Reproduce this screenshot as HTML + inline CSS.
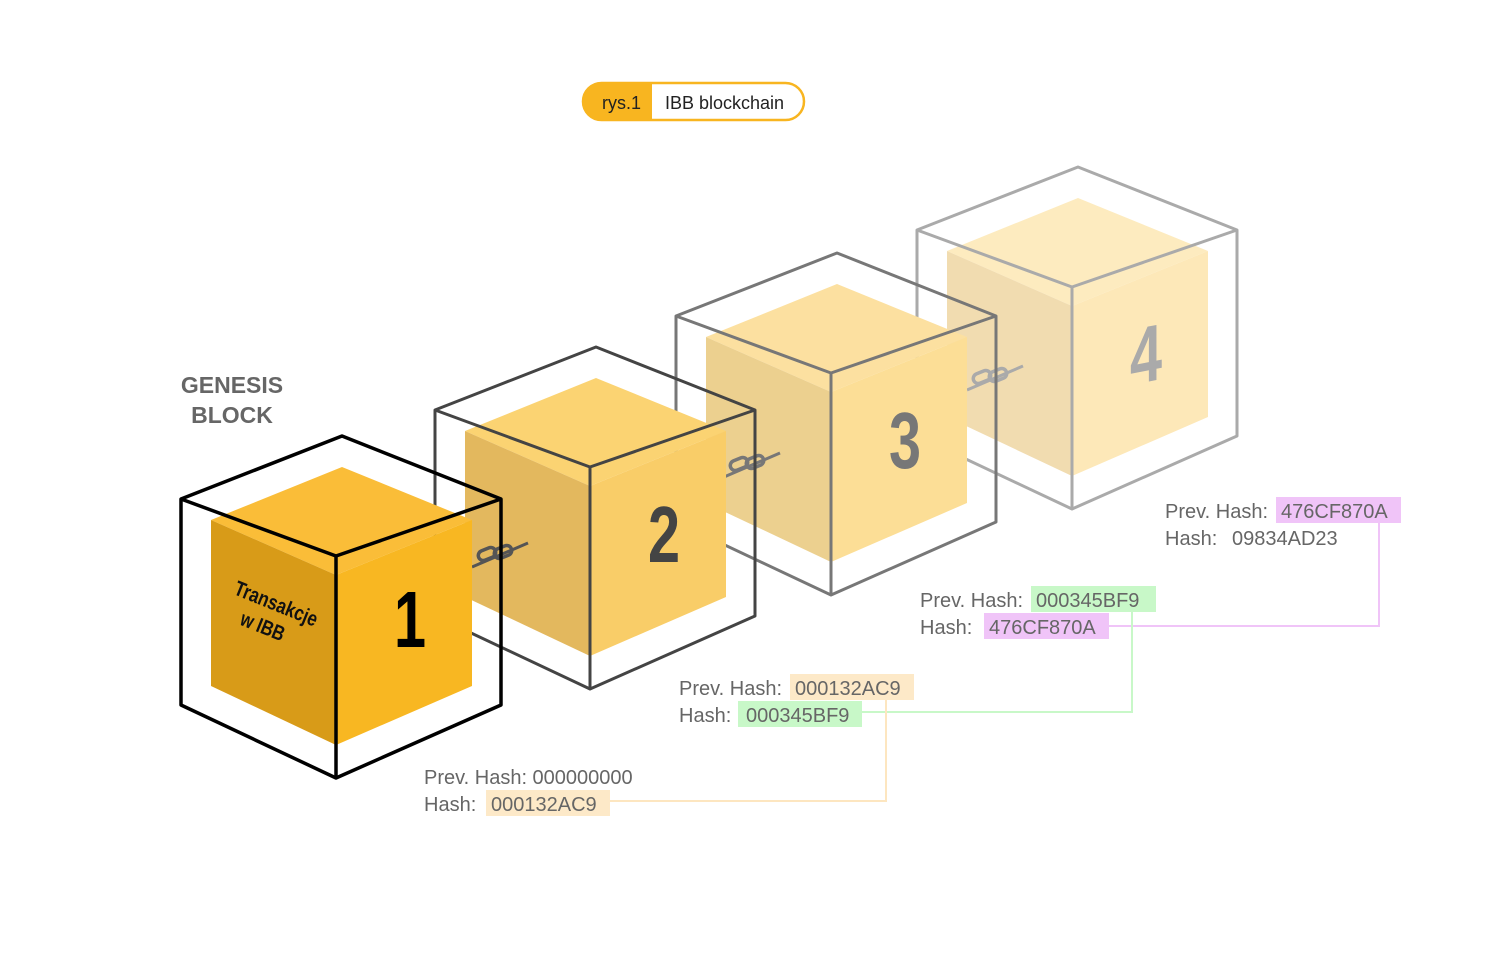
<!DOCTYPE html>
<html><head><meta charset="utf-8"><style>
body{margin:0;background:#fff;}
svg{display:block;font-family:"Liberation Sans",sans-serif;}
.t{font-size:20px;fill:#666;}
</style></head><body>
<svg width="1508" height="954" viewBox="0 0 1508 954" xmlns="http://www.w3.org/2000/svg">
<defs>
<g id="chain">
<line x1="-28" y1="12" x2="28" y2="-12" stroke-width="3"/>
<rect x="-22" y="-6" width="18" height="10" rx="5" fill="none" stroke-width="3.5" transform="rotate(-22 -13 -1)"/>
<rect x="-6" y="-8" width="18" height="10" rx="5" fill="none" stroke-width="3.5" transform="rotate(-22 3 -3)"/>
</g>
</defs>
<!-- pill -->
<rect x="583" y="83" width="221" height="37" rx="18.5" fill="#fff" stroke="#f8b520" stroke-width="2.5"/>
<path d="M601.5 83 H652 V120 H601.5 A18.5 18.5 0 0 1 601.5 83 Z" fill="#f8b520"/>
<text x="602" y="109" font-size="18" fill="#222">rys.1</text>
<text x="665" y="109" font-size="18" fill="#222">IBB blockchain</text>

<text x="232" y="393" font-size="23" font-weight="bold" fill="#666" text-anchor="middle">GENESIS</text>
<text x="232" y="423" font-size="23" font-weight="bold" fill="#666" text-anchor="middle">BLOCK</text>

<!-- cube 4 -->
<g transform="translate(736,-269)">
<polygon points="342,467 472,520 336,575 211,520" fill="#fdebbf"/>
<polygon points="211,520 336,575 336,745 211,686" fill="#f1dcb0"/>
<polygon points="336,575 472,520 472,686 336,745" fill="#fde8b8"/>
<g fill="none" stroke="#aaa" stroke-width="3" stroke-linejoin="round">
<polygon points="342,436 501,499 501,705 336,778 181,705 181,499"/>
<polyline points="181,499 336,556 501,499"/><line x1="336" y1="556" x2="336" y2="778"/>
</g>
<g transform="translate(410,0) scale(0.72,1)"><text x="0" y="651" font-size="80" font-weight="bold" fill="#aaa" text-anchor="middle" transform="skewY(-8) translate(0,0)">4</text></g>
</g>
<use href="#chain" x="995" y="378" stroke="#aaa"/>
<!-- cube 3 -->
<g transform="translate(495,-183)">
<polygon points="342,467 472,520 336,575 211,520" fill="#fce0a0"/>
<polygon points="211,520 336,575 336,745 211,686" fill="#ecd08f"/>
<polygon points="336,575 472,520 472,686 336,745" fill="#fcde96"/>
<g fill="none" stroke="#777" stroke-width="3" stroke-linejoin="round">
<polygon points="342,436 501,499 501,705 336,778 181,705 181,499"/>
<polyline points="181,499 336,556 501,499"/><line x1="336" y1="556" x2="336" y2="778"/>
</g>
<g transform="translate(410,0) scale(0.72,1)"><text x="0" y="651" font-size="80" font-weight="bold" fill="#777" text-anchor="middle">3</text></g>
</g>
<use href="#chain" x="752" y="465" stroke="#777"/>
<!-- cube 2 -->
<g transform="translate(254,-89)">
<polygon points="342,467 472,520 336,575 211,520" fill="#fbd372"/>
<polygon points="211,520 336,575 336,745 211,686" fill="#e3b85e"/>
<polygon points="336,575 472,520 472,686 336,745" fill="#f9cd68"/>
<g fill="none" stroke="#444" stroke-width="3" stroke-linejoin="round">
<polygon points="342,436 501,499 501,705 336,778 181,705 181,499"/>
<polyline points="181,499 336,556 501,499"/><line x1="336" y1="556" x2="336" y2="778"/>
</g>
<g transform="translate(410,0) scale(0.72,1)"><text x="0" y="651" font-size="80" font-weight="bold" fill="#444" text-anchor="middle">2</text></g>
</g>
<use href="#chain" x="500" y="555" stroke="#555"/>
<!-- cube 1 -->
<g>
<polygon points="342,467 472,520 336,575 211,520" fill="#fabd38"/>
<polygon points="211,520 336,575 336,745 211,686" fill="#d89b18"/>
<polygon points="336,575 472,520 472,686 336,745" fill="#f8b722"/>
<g fill="none" stroke="#000" stroke-width="3.5" stroke-linejoin="round">
<polygon points="342,436 501,499 501,705 336,778 181,705 181,499"/>
<polyline points="181,499 336,556 501,499"/><line x1="336" y1="556" x2="336" y2="778"/>
</g>
<g transform="translate(410,0) scale(0.72,1)"><text x="0" y="647" font-size="80" font-weight="bold" fill="#000" text-anchor="middle">1</text></g>
<g transform="translate(272,614) rotate(22)" font-size="21" font-weight="bold" fill="#111" text-anchor="middle">
<text x="0" y="-4" textLength="88" lengthAdjust="spacingAndGlyphs">Transakcje</text>
<text x="-4" y="22" textLength="46" lengthAdjust="spacingAndGlyphs">w IBB</text>
</g>
</g>

<!-- connectors -->
<polyline points="1379,523 1379,626 1109,626" fill="none" stroke="#f0c4f8" stroke-width="2"/>
<polyline points="1132,612 1132,712 862,712" fill="none" stroke="#c8f8c8" stroke-width="2"/>
<polyline points="886,700 886,801 610,801" fill="none" stroke="#fde6c0" stroke-width="2"/>

<!-- hash labels -->
<rect x="1276" y="497" width="125" height="26" fill="#f0c4f8"/>
<text class="t" x="1165" y="518">Prev. Hash:</text><text class="t" x="1281" y="518">476CF870A</text>
<text class="t" x="1165" y="545">Hash:</text><text class="t" x="1232" y="545">09834AD23</text>

<rect x="1031" y="586" width="125" height="26" fill="#c8f8c8"/>
<rect x="984" y="613" width="125" height="26" fill="#f0c4f8"/>
<text class="t" x="920" y="607">Prev. Hash:</text><text class="t" x="1036" y="607">000345BF9</text>
<text class="t" x="920" y="634">Hash:</text><text class="t" x="989" y="634">476CF870A</text>

<rect x="790" y="674" width="124" height="26" fill="#fde9c8"/>
<rect x="738" y="701" width="124" height="26" fill="#c8f8c8"/>
<text class="t" x="679" y="695">Prev. Hash:</text><text class="t" x="795" y="695">000132AC9</text>
<text class="t" x="679" y="722">Hash:</text><text class="t" x="746" y="722">000345BF9</text>

<rect x="486" y="790" width="124" height="26" fill="#fde9c8"/>
<text class="t" x="424" y="784">Prev. Hash: 000000000</text>
<text class="t" x="424" y="811">Hash:</text><text class="t" x="491" y="811">000132AC9</text>
</svg>
</body></html>
